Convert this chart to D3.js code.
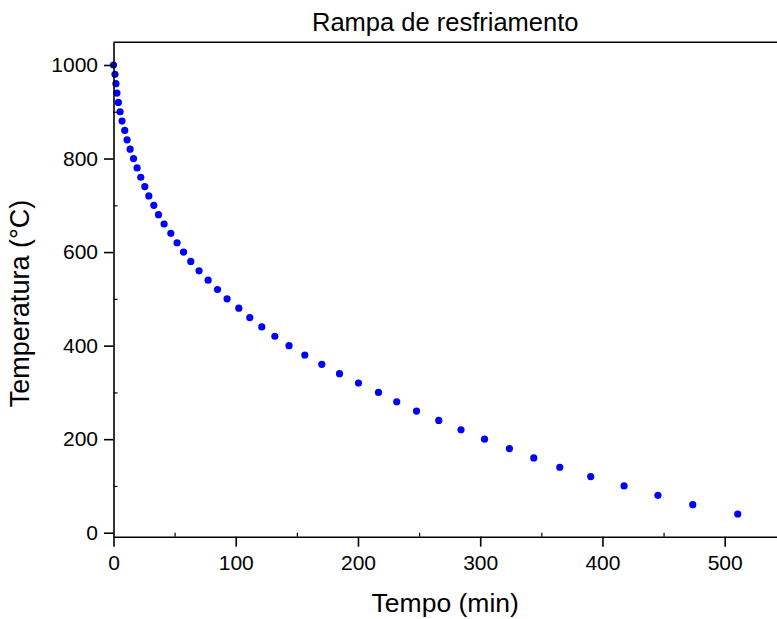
<!DOCTYPE html>
<html>
<head>
<meta charset="utf-8">
<script src="https://cdn.jsdelivr.net/npm/d3@7"></script>
<style>
  html, body { margin: 0; padding: 0; background: #fff; }
  svg { display: block; font-family: "Liberation Sans", Arial, sans-serif; }
</style>
</head>
<body>
<svg id="chart" width="777" height="619"></svg>
<script>
// Cooling ramp: temperature (°C) against elapsed time (min)
const temperatures = [1000, 980, 960, 940, 920, 900, 880, 860, 840, 820,
                      800, 780, 760, 740, 720, 700, 680, 660, 640, 620,
                      600, 580, 560, 540, 520, 500, 480, 460, 440, 420,
                      400, 380, 360, 340, 320, 300, 280, 260, 240, 220,
                      200, 180, 160, 140, 120, 100, 80, 60, 40];
const times = [0, 1.2, 2, 2.8, 4, 5.4, 7, 9.2, 11.1, 13.6,
               16.4, 19.3, 22.3, 25.6, 28.9, 33, 36.8, 41.4, 46.9, 52,
               57.3, 63.2, 70, 77.4, 85.1, 92.9, 102.5, 111.5, 121.3, 132,
               143.6, 156.5, 170.4, 184.9, 200.4, 216.8, 231.7, 247.9, 266.1, 284.3,
               303.5, 323.9, 343.8, 365.1, 390.4, 417.7, 445.4, 473.9, 510.7];
const xTicks = [0, 100, 200, 300, 400, 500];
const xMinorTicks = [50, 150, 250, 350, 450];
const yTicks = [0, 200, 400, 600, 800, 1000];
const yMinorTicks = [100, 300, 500, 700, 900];

const titleText = "Rampa de resfriamento";
const xTitle = "Tempo (min)";
const yTitle = "Temperatura (°C)";

const svg = d3.select("#chart");
const plotLeft = 113.5, plotRight = 777, plotTop = 42.3, plotBottom = 536.7;
const fontFamily = "'Liberation Sans', Arial, sans-serif";

const x = d3.scaleLinear().domain([0, 542.8]).range([plotLeft, plotRight]);
const y = d3.scaleLinear().domain([-8.5, 1048.5]).range([plotBottom, plotTop]);

const points = times.map((t, i) => ({ t, T: temperatures[i] }));

// data points
svg.append("g")
  .selectAll("circle")
  .data(points)
  .join("circle")
  .attr("cx", d => x(d.t))
  .attr("cy", d => y(d.T))
  .attr("r", 3.6)
  .attr("fill", "#0000ff");

// top frame line
svg.append("line")
  .attr("x1", plotLeft).attr("x2", plotRight)
  .attr("y1", plotTop).attr("y2", plotTop)
  .attr("stroke", "#000").attr("stroke-width", 1.6);

// bottom axis
const xAxis = svg.append("g")
  .attr("transform", `translate(0,${plotBottom})`)
  .call(d3.axisBottom(x).tickValues(xTicks).tickFormat(d3.format("d"))
    .tickSize(10).tickSizeOuter(0).tickPadding(8.5));
xAxis.select(".domain").attr("stroke-width", 1.6);
xAxis.selectAll(".tick line").attr("stroke-width", 1.6);
xAxis.selectAll(".tick text")
  .attr("font-size", 21).attr("fill", "#000").attr("font-family", fontFamily);
svg.append("g")
  .attr("transform", `translate(0,${plotBottom})`)
  .call(d3.axisTop(x).tickValues(xMinorTicks).tickSize(4).tickSizeOuter(0).tickFormat(""))
  .call(g => g.select(".domain").remove())
  .selectAll(".tick line").attr("stroke-width", 1.2);

// left axis
const yAxis = svg.append("g")
  .attr("transform", `translate(${plotLeft},0)`)
  .call(d3.axisLeft(y).tickValues(yTicks).tickFormat(d3.format("d"))
    .tickSize(9.5).tickSizeOuter(0).tickPadding(6));
yAxis.select(".domain").attr("stroke-width", 1.6);
yAxis.selectAll(".tick line").attr("stroke-width", 1.6);
yAxis.selectAll(".tick text")
  .attr("font-size", 21).attr("fill", "#000").attr("font-family", fontFamily);
svg.append("g")
  .attr("transform", `translate(${plotLeft},0)`)
  .call(d3.axisRight(y).tickValues(yMinorTicks).tickSize(4).tickSizeOuter(0).tickFormat(""))
  .call(g => g.select(".domain").remove())
  .selectAll(".tick line").attr("stroke-width", 1.2);

// titles
svg.append("text")
  .attr("x", (plotLeft + plotRight) / 2).attr("y", 31)
  .attr("text-anchor", "middle").attr("font-size", 25.5)
  .text(titleText);

svg.append("text")
  .attr("x", (plotLeft + plotRight) / 2).attr("y", 612)
  .attr("text-anchor", "middle").attr("font-size", 26.5)
  .text(xTitle);

svg.append("text")
  .attr("transform", `translate(29,${(plotTop + plotBottom) / 2 + 14}) rotate(-90)`)
  .attr("text-anchor", "middle").attr("font-size", 27)
  .text(yTitle);
</script>
</body>
</html>
